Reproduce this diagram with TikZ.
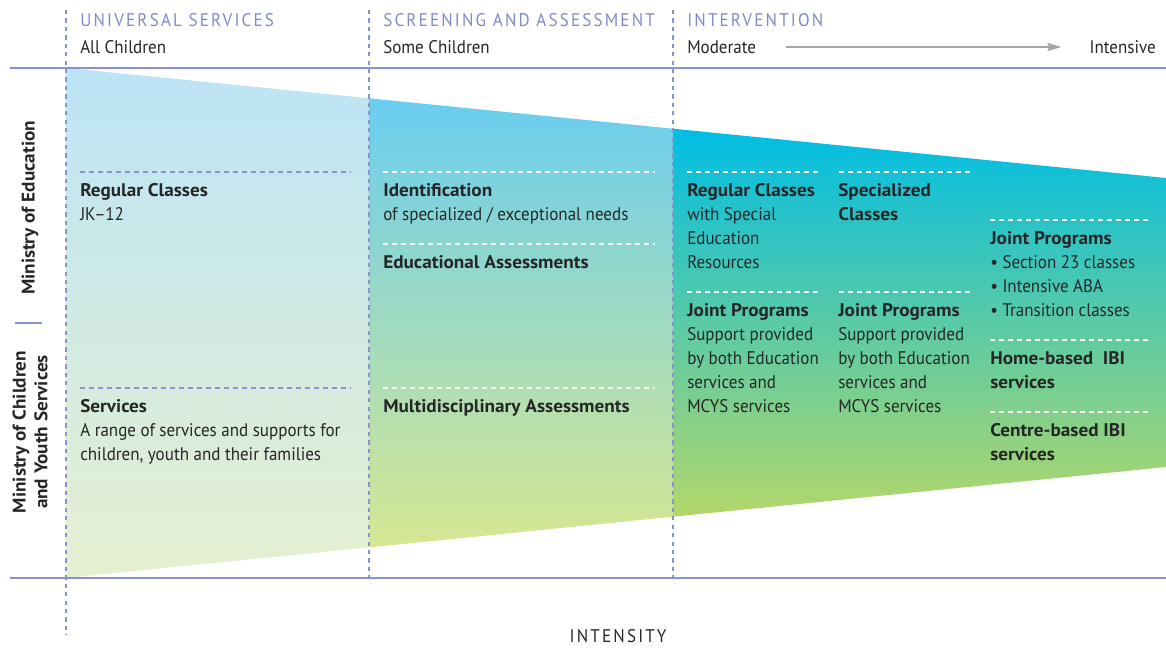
\documentclass[tikz,border=0pt]{standalone}
\usepackage{fontspec}
\setmainfont{PT Sans}[FakeStretch=0.93,BoldFeatures={FakeStretch=1.05}]
\usetikzlibrary{positioning,arrows.meta}

\definecolor{rulecol}{RGB}{136,146,206}
\definecolor{headcol}{RGB}{128,138,200}
\definecolor{ink}{RGB}{38,38,38}
\definecolor{arrowgray}{RGB}{165,165,165}
\definecolor{sAtop}{RGB}{188,228,246}
\definecolor{sAmid}{RGB}{212,235,236}
\definecolor{sAbot}{RGB}{230,240,208}
\definecolor{sBtop}{RGB}{105,205,240}
\definecolor{sBmid}{RGB}{158,214,204}
\definecolor{sBbot}{RGB}{214,231,146}
\definecolor{sCtop}{RGB}{0,189,228}
\definecolor{sCmid}{RGB}{100,200,186}
\definecolor{sCbot}{RGB}{178,215,106}

\newcommand{\bodysize}{\fontsize{13}{17.07}\selectfont}

\begin{document}
\begin{tikzpicture}[x=0.025cm,y=-0.025cm,
    blk/.style={anchor=north west,inner sep=0pt,align=left,text=ink,font=\bodysize},
    ttl/.style={anchor=west,inner sep=0pt,text=headcol,font=\bodysize\addfontfeatures{LetterSpace=12}},
    sub/.style={anchor=west,inner sep=0pt,text=ink,font=\bodysize},
    rulesolid/.style={rulecol,line width=1.1pt},
    colsep/.style={rulecol,line width=0.8pt,dash pattern=on 3pt off 3pt},
    bluesep/.style={rulecol,line width=0.8pt,dash pattern=on 3.6pt off 2.8pt},
    whitesep/.style={white,line width=0.8pt,dash pattern=on 3.6pt off 2.8pt},
    flow/.style={arrowgray,line width=0.8pt,-{Stealth[length=10pt,width=6pt,inset=1.5pt]}}]
    \useasboundingbox (0,0) rectangle (1166,648);

    % Shaded wedge, one piece per column
    \shade[top color=sAtop,middle color=sAmid,bottom color=sAbot]
        (66,68) -- (369,98.3) -- (369,547.4) -- (66,578) -- cycle;
    \shade[top color=sBtop,middle color=sBmid,bottom color=sBbot]
        (369,98.3) -- (673,128.7) -- (673,516.7) -- (369,547.4) -- cycle;
    \shade[top color=sCtop,middle color=sCmid,bottom color=sCbot]
        (673,128.7) -- (1166,178) -- (1166,467) -- (673,516.7) -- cycle;

    % Rules
    \draw[rulesolid] (10,68) -- (1166,68);
    \draw[rulesolid] (10,578) -- (1166,578);
    \draw[colsep] (66,10) -- (66,635);
    \foreach \x in {369,673} {
        \draw[colsep] (\x,10) -- (\x,578);
    }

    % Separators
    \foreach \y in {172,388} {
        \draw[bluesep] (80,\y) -- (351,\y);
    }
    \foreach \y in {172,244,388} {
        \draw[whitesep] (383,\y) -- (655,\y);
    }
    \foreach \y in {172,292} {
        \draw[whitesep] (687,\y) -- (820,\y);
        \draw[whitesep] (839,\y) -- (972,\y);
    }
    \foreach \y in {220,340,412} {
        \draw[whitesep] (990,\y) -- (1152,\y);
    }

    % Column heads
    \node[ttl] (univ) at (80,20) {UNIVERSAL SERVICES};
    \node[sub] (allch) at (80,47) {All Children};
    \node[ttl] (screen) at (383,20) {SCREENING AND ASSESSMENT};
    \node[sub] (somech) at (383,47) {Some Children};
    \node[ttl] (interv) at (687,20) {INTERVENTION};
    \node[sub] (moder) at (687,47) {Moderate};
    \node[sub,anchor=east] (inten) at (1156,47) {Intensive};
    \draw[flow,shorten <=0.75cm,shorten >=0.7cm] (moder) -- (inten);

    % Ministries
    \node[rotate=90,inner sep=0pt,text=ink,font=\bodysize\bfseries] (moe) at (30,208) {Ministry of Education};
    \draw[rulecol,line width=0.8pt] (15,323) -- (42,323);
    \node[rotate=90,inner sep=0pt,align=center,text=ink,font=\fontsize{13}{15.5}\selectfont\bfseries] (mcys) at (30,432)
        {Ministry of Children\\and Youth Services};

    % Universal services
    \node[blk] (regc) at (80,183) {\textbf{Regular Classes}\\JK--12};
    \node[blk] (serv) at (80,399) {\textbf{Services}\\A range of services and supports for\\children, youth and their families};

    % Screening and assessment
    \node[blk] (ident) at (383,183) {\textbf{Identification}\\of specialized / exceptional needs};
    \node[blk] (eduas) at (383,255) {\textbf{Educational Assessments}};
    \node[blk] (multi) at (383,399) {\textbf{Multidisciplinary Assessments}};

    % Intervention
    \node[blk] (regsp) at (687,183) {\textbf{Regular Classes}\\with Special\\Education\\Resources};
    \node[blk] (jointa) at (687,303) {\textbf{Joint Programs}\\Support provided\\by both Education\\services and\\MCYS services};
    \node[blk] (spec) at (838,183) {\textbf{Specialized}\\\textbf{Classes}};
    \node[blk] (jointb) at (838,303) {\textbf{Joint Programs}\\Support provided\\by both Education\\services and\\MCYS services};
    \node[blk] (jointc) at (990,231) {\textbf{Joint Programs}\\\textbullet\ Section 23 classes\\\textbullet\ Intensive ABA\\\textbullet\ Transition classes};
    \node[blk] (home) at (990,351) {\textbf{Home-based\ \ IBI}\\\textbf{services}};
    \node[blk] (centre) at (990,423) {\textbf{Centre-based IBI}\\\textbf{services}};

    % Axis
    \node[inner sep=0pt,text=ink,font=\bodysize\addfontfeatures{LetterSpace=12}] (intens) at (618,636) {INTENSITY};
\end{tikzpicture}
\end{document}
